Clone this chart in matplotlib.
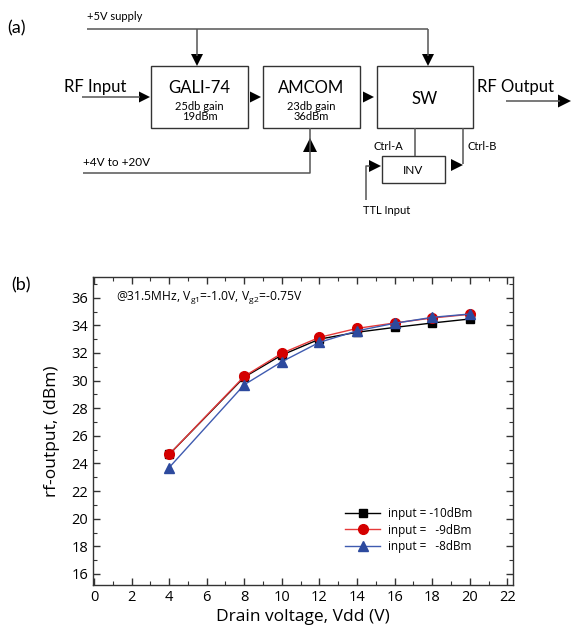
"""
Two-panel figure: (a) RF chain block diagram, (b) rf-output vs drain voltage.
"""
import matplotlib
matplotlib.use("Agg")
import matplotlib.pyplot as plt
from matplotlib.patches import Rectangle, Polygon
from matplotlib.ticker import MultipleLocator

plt.rcParams["font.family"] = ["Open Sans", "DejaVu Sans"]
plt.rcParams["mathtext.fontset"] = "custom"
plt.rcParams["mathtext.rm"] = "Open Sans"

# ---- data for panel (b) ----
vdd = [4, 8, 10, 12, 14, 16, 18, 20]
out_m10 = [24.65, 30.25, 31.85, 33.0, 33.5, 33.85, 34.17, 34.46]
out_m9 = [24.65, 30.31, 31.98, 33.13, 33.78, 34.17, 34.53, 34.8]
out_m8 = [23.7, 29.7, 31.37, 32.77, 33.6, 34.15, 34.58, 34.82]
series_labels = ["input = -10dBm", "input =   -9dBm", "input =   -8dBm"]

W, H = 571, 630
fig = plt.figure(figsize=(W / 100, H / 100), dpi=100)

# ---- panel (a): block diagram in pixel coordinates ----
ax0 = fig.add_axes([0, 0, 1, 1])
ax0.set_xlim(0, W)
ax0.set_ylim(H, 0)
ax0.axis("off")

LC = "#555555"   # wire colour
BC = "#333333"   # box edge colour
DF = ["Lato", "DejaVu Sans"]


def wire(xs, ys):
    ax0.plot(xs, ys, color=LC, lw=1.1, solid_capstyle="butt")


def head(x, y, d, size=12):
    # filled triangle with its tip at (x, y), pointing d
    h = size / 2
    if d == "down":
        pts = [(x, y), (x - h, y - size), (x + h, y - size)]
    elif d == "up":
        pts = [(x, y), (x - h, y + size), (x + h, y + size)]
    else:
        pts = [(x, y), (x - size, y - h), (x - size, y + h)]
    ax0.add_patch(Polygon(pts, closed=True, color="black", lw=0))


def box(x0, y0, x1, y1):
    ax0.add_patch(Rectangle((x0, y0), x1 - x0, y1 - y0, fill=False,
                            edgecolor=BC, lw=1.0))


ax0.text(17, 28, "(a)", fontsize=13, ha="center", va="center", family=DF)

# supply rail
ax0.text(87, 17, "+5V supply", fontsize=8, ha="left", va="center", family=DF)
wire([87, 428], [28.5, 28.5])
wire([197, 197], [28.5, 56])
head(197, 66, "down")
wire([428, 428], [28.5, 56])
head(428, 66, "down")

# blocks
box(151, 66, 248, 128)
ax0.text(199.5, 88, "GALI-74", fontsize=12, ha="center", va="center", family=DF)
ax0.text(199.5, 106, "25db gain", fontsize=8, ha="center", va="center", family=DF)
ax0.text(199.5, 117, "19dBm", fontsize=8, ha="center", va="center", family=DF)

box(263, 66, 360, 128)
ax0.text(311.5, 88, "AMCOM", fontsize=12, ha="center", va="center", family=DF)
ax0.text(311.5, 106, "23db gain", fontsize=8, ha="center", va="center", family=DF)
ax0.text(311.5, 117, "36dBm", fontsize=8, ha="center", va="center", family=DF)

box(377, 66, 473, 128)
ax0.text(425, 99, "SW", fontsize=12, ha="center", va="center", family=DF)

# rf path
ax0.text(64, 87, "RF Input", fontsize=12, ha="left", va="center", family=DF)
wire([82, 140], [97, 97])
head(150, 97, "right", 11)
head(261, 97, "right", 11)
head(374, 97, "right", 11)
ax0.text(477, 87, "RF Output", fontsize=12, ha="left", va="center", family=DF)
wire([506, 560], [101, 101])
head(571, 101, "right", 13)

# drain supply
ax0.text(83, 162, "+4V to +20V", fontsize=8.5, ha="left", va="center", family=DF)
wire([83, 310, 310], [173, 173, 128])
head(310, 138, "up", 14)

# control
ax0.text(373, 146, "Ctrl-A", fontsize=8, ha="left", va="center", family=DF)
ax0.text(468, 146, "Ctrl-B", fontsize=8, ha="left", va="center", family=DF)
wire([414.5, 414.5], [128, 156])
wire([463, 463], [128, 164])
box(382, 156, 445, 183)
ax0.text(413.5, 170, "INV", fontsize=8.5, ha="center", va="center", family=DF)
head(463, 165, "right", 12)
wire([366, 366, 370], [200, 166, 166])
head(381, 166, "right", 12)
ax0.text(387, 210, "TTL Input", fontsize=8, ha="center", va="center", family=DF)

# ---- panel (b): measured output ----
ax = fig.add_axes([93 / W, 1 - 585 / H, 420 / W, 308 / H])
ax.plot(vdd, out_m10, "-s", color="black", lw=1.0, ms=6,
        label=series_labels[0], zorder=3)
ax.plot(vdd, out_m9, "-o", color="#e63a3a", mfc="#d40000", mec="#d40000",
        lw=1.0, ms=7, label=series_labels[1], zorder=4)
ax.plot(vdd, out_m8, "-^", color="#3f5bb0", mfc="#2d4a9e", mec="#2d4a9e",
        lw=1.0, ms=7, label=series_labels[2], zorder=5)

ax.set_xlim(-0.05, 22.3)
ax.set_ylim(15.2, 37.5)
ax.xaxis.set_major_locator(MultipleLocator(2))
ax.xaxis.set_minor_locator(MultipleLocator(1))
ax.yaxis.set_major_locator(MultipleLocator(2))
ax.yaxis.set_minor_locator(MultipleLocator(1))
ax.tick_params(which="both", direction="in", top=True, right=True,
               colors="#333333", labelcolor="black", labelsize=10.5)
ax.tick_params(which="major", length=5, width=1)
ax.tick_params(which="minor", length=3, width=0.8)
for s in ax.spines.values():
    s.set_color("#333333")
    s.set_linewidth(1.0)

ax.set_xlabel("Drain voltage, Vdd (V)", fontsize=12.5, labelpad=3)
ax.set_ylabel("rf-output, (dBm)", fontsize=12.5, labelpad=8)

ax.text(0.055, 0.935,
        r"@31.5MHz, V$_{\mathregular{g1}}$=-1.0V, V$_{\mathregular{g2}}$=-0.75V",
        transform=ax.transAxes, fontsize=8.7, ha="left", va="center")

ax.legend(loc="upper left", bbox_to_anchor=(345 / W, 1 - 507 / H),
          bbox_transform=fig.transFigure, frameon=False, fontsize=8.5,
          handlelength=3.0, numpoints=1, labelspacing=0.3,
          handletextpad=0.6, borderpad=0, borderaxespad=0)

fig.text(21 / W, 1 - 285 / H, "(b)", fontsize=13, ha="center", va="center",
         family=DF)

fig.savefig("out.png", dpi=100)
